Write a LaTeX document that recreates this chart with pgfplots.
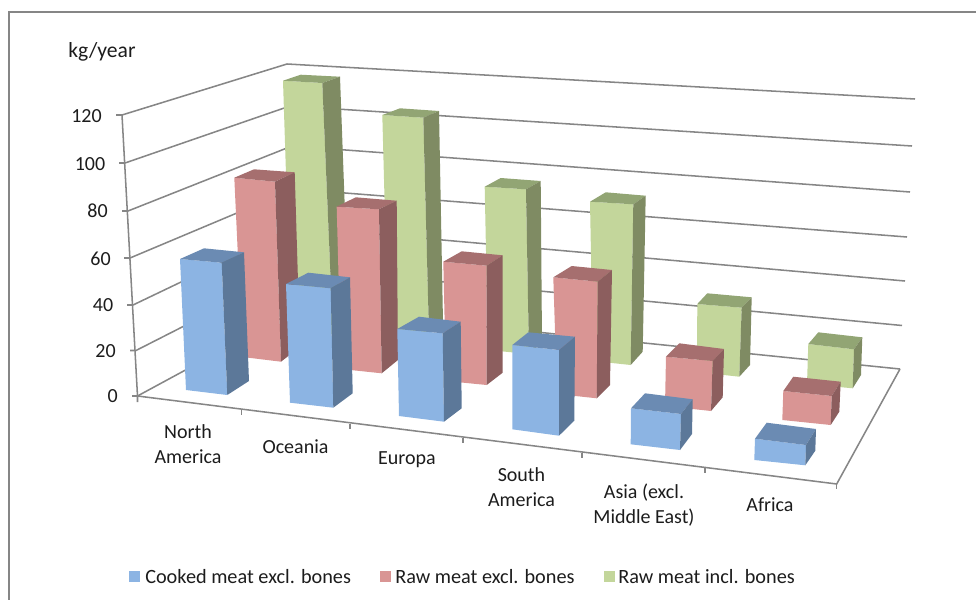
\documentclass[border=0pt]{standalone}
\usepackage{fontspec}
\setmainfont{Carlito}
\usepackage{pgfplots}
\pgfplotsset{compat=1.18}

\definecolor{gridc}{HTML}{868686}
\definecolor{txt}{HTML}{1C1C1C}
\definecolor{blueF}{HTML}{8CB4E3}
\definecolor{blueT}{HTML}{6B8BB3}
\definecolor{blueS}{HTML}{5C7899}
\definecolor{redF}{HTML}{D99594}
\definecolor{redT}{HTML}{A66F6F}
\definecolor{redS}{HTML}{8C5E5E}
\definecolor{greenF}{HTML}{C3D69B}
\definecolor{greenT}{HTML}{92A574}
\definecolor{greenS}{HTML}{7F8B63}

% colour prefix, front bottom L/R, front top R/L, back top L/R, back bottom R
\newcommand{\barbox}[8]{%
  \addplot[fill=#1F,draw=none] coordinates {#2 #3 #4 #5} -- cycle;
  \addplot[fill=#1T,draw=none] coordinates {#5 #4 #7 #6} -- cycle;
  \addplot[fill=#1S,draw=none] coordinates {#3 #8 #7 #4} -- cycle;
}
\newcommand{\gline}[1]{\addplot[gridc,line width=1.15pt] coordinates {#1};}
\newcommand{\lab}[3]{\node[txt,font=\fontsize{15pt}{18.5pt}\selectfont,align=center,anchor=center] at (axis cs:#1,#2) {#3};}
\newcommand{\ylab}[3]{\node[txt,font=\fontsize{15pt}{18.5pt}\selectfont,anchor=east,inner sep=0pt] at (axis cs:#1,#2) {#3};}
\newcommand{\leg}[3]{\node[txt,font=\fontsize{15.2pt}{18.5pt}\selectfont,anchor=west,inner sep=0pt] at (axis cs:#1,#2) {#3};}

\begin{document}
\begin{tikzpicture}
\begin{axis}[
  scale only axis,
  width=732pt,height=450pt,
  xmin=0,xmax=976,ymin=0,ymax=600,
  y dir=reverse,
  axis lines=none,
  clip=true,
]
\coordinate (bl) at (axis cs:0,600);
\coordinate (tr) at (axis cs:976,0);
% chart frame
\gline{(976,12) (9,12) (9,600)}

% walls and floor: value lines 120 ... 0
\gline{(116,115) (122,115) (287,64) (915,99)}
\gline{(119,163) (125,163) (290,106) (912,146)}
\gline{(122,211) (128,211) (292,146) (910,192)}
\gline{(124,258) (130,258) (294,189) (907,237)}
\gline{(127,305) (133,305) (296,227) (905,281)}
\gline{(130,350.5) (136,350.5) (298,268) (902,325.5)}
\gline{(132,396) (137.5,396) (300,308) (900,369)}
% value axis, category axis, right floor edge
\gline{(122,115) (137.5,396) (137.5,402)}
\gline{(137.5,396) (836.7,484) (900,369)}
\gline{(836.7,484) (836.7,489)}
\gline{(241.7,410) (241.7,415)}
\gline{(350,423.5) (350,428.5)}
\gline{(463,438) (463,443)}
\gline{(582,453) (582,458)}
\gline{(705,468) (705,473)}

% raw meat incl. bones
\barbox{green}{(291,330)}{(333,334)}{(322.3,83)}{(283,80.7)}{(300.7,74.7)}{(340,76.7)}{(349,322)}
\barbox{green}{(388,330)}{(429,334)}{(423.3,117.7)}{(382.3,115)}{(400,108.3)}{(439,111)}{(443,322)}
\barbox{green}{(488,350)}{(529,354)}{(526,189.3)}{(484.7,186.7)}{(500.7,178)}{(540.7,181)}{(542,342)}
\barbox{green}{(593,361)}{(630.7,365)}{(633.3,204.3)}{(590,201.7)}{(605.7,192.3)}{(645.7,195.7)}{(642.7,351.7)}
\barbox{green}{(697,372)}{(739.3,376.7)}{(741.7,307.7)}{(697.3,304)}{(707.3,293.3)}{(751.7,297.3)}{(750,365)}
\barbox{green}{(807,384)}{(852.7,388.3)}{(854,349.3)}{(808.3,344)}{(818.3,332.3)}{(862.3,337.3)}{(861,375)}

% raw meat excl. bones
\barbox{red}{(242.6,357)}{(281,361.7)}{(275,181.7)}{(234.3,177.7)}{(254,169.3)}{(294.7,172.3)}{(300,347)}
\barbox{red}{(341,369)}{(381.7,373.3)}{(379,209.3)}{(336.7,206.7)}{(355.7,197.3)}{(396.7,200.7)}{(398,360)}
\barbox{red}{(446,381)}{(486.7,385)}{(486.7,265.7)}{(443.3,261.7)}{(461.7,251.3)}{(502.7,255.3)}{(502.7,372.7)}
\barbox{red}{(557,394)}{(596.7,398.3)}{(597.7,281.7)}{(553.3,277.3)}{(571.7,266)}{(612,270)}{(610,385)}
\barbox{red}{(665,406)}{(711,411)}{(712.7,361)}{(666,356.7)}{(679.3,343.3)}{(724,349)}{(722.7,397.3)}
\barbox{red}{(782.3,420)}{(830.7,425)}{(831.7,396)}{(783.3,391)}{(793.3,376.7)}{(840.7,381.7)}{(839.3,411.7)}

% cooked meat excl. bones
\barbox{blue}{(186,390)}{(227.3,395)}{(221.7,262.7)}{(180,259)}{(204,248.3)}{(244,252.3)}{(249,381)}
\barbox{blue}{(290,402.7)}{(333.3,407.7)}{(330.7,288.3)}{(286,284)}{(308.3,272.7)}{(350,277.3)}{(352.7,393.3)}
\barbox{blue}{(399,416)}{(444,421.7)}{(442.7,333.3)}{(397.3,329)}{(419,316.7)}{(460.7,321.7)}{(461.7,408.3)}
\barbox{blue}{(512.3,429.3)}{(559,435.7)}{(559,350)}{(512.3,345)}{(528.3,332.3)}{(575,336.7)}{(574.3,420.7)}
\barbox{blue}{(630.7,444.3)}{(680,450)}{(681,414)}{(631,408.3)}{(645,393.3)}{(692.7,399.3)}{(692,434)}
\barbox{blue}{(754.3,460)}{(805.3,465.3)}{(806,445)}{(755,438.7)}{(766.7,422.7)}{(816,429)}{(815.3,450.7)}

% legend keys
\addplot[fill=blueF,draw=none] coordinates {(129,571) (140,571) (140,582) (129,582)} -- cycle;
\addplot[fill=redF,draw=none] coordinates {(380,571) (391,571) (391,582) (380,582)} -- cycle;
\addplot[fill=greenF,draw=none] coordinates {(604,571) (615,571) (615,582) (604,582)} -- cycle;

\leg{145}{577}{Cooked meat excl. bones}
\leg{395}{577}{Raw meat excl. bones}
\leg{618}{577}{Raw meat incl. bones}

\node[txt,font=\fontsize{16.2pt}{18.5pt}\selectfont,anchor=west,inner sep=0pt] at (axis cs:68,52) {kg/year};
\ylab{102}{116}{120}
\ylab{105.5}{164}{100}
\ylab{108}{211}{80}
\ylab{111}{259}{60}
\ylab{113.5}{305}{40}
\ylab{116}{351}{20}
\ylab{118}{396}{0}

\lab{188}{444}{North\\America}
\lab{295.5}{447}{Oceania}
\lab{407}{460}{Europa}
\lab{521.5}{487}{South\\America}
\lab{644}{505}{Asia (excl.\\Middle East)}
\lab{770}{505}{Africa}
\end{axis}
\pgfresetboundingbox
\path[use as bounding box] (bl) rectangle (tr);
\end{tikzpicture}
\end{document}
